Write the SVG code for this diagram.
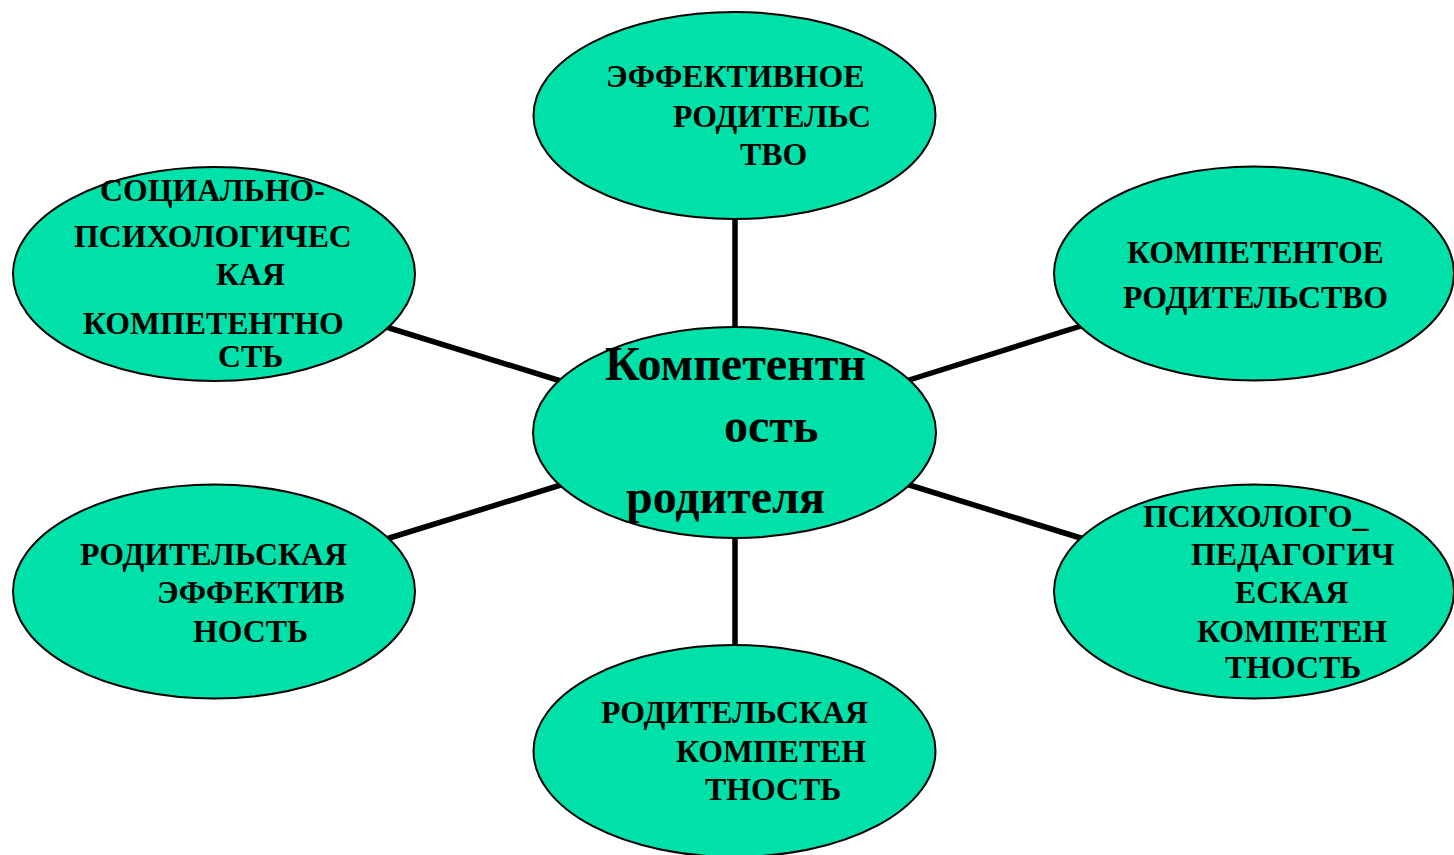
<svg xmlns="http://www.w3.org/2000/svg" width="1454" height="855" viewBox="0 0 1454 855">
<style>
.n{fill:#00E1A9;stroke:#000;stroke-width:2}
.t{font-family:"Liberation Serif","Times New Roman",serif;font-weight:bold;font-size:31.8px;fill:#000}
.c{font-size:48px}
.l{stroke:#000;stroke-width:5.5;fill:none}
</style>
<rect width="1454" height="855" fill="#fff"/>
<g id="connectors">
<line class="l" x1="735" y1="200" x2="735" y2="360"/>
<line class="l" x1="735" y1="500" x2="735" y2="670"/>
<line class="l" x1="370" y1="322" x2="580" y2="387"/>
<line class="l" x1="1100" y1="320" x2="890" y2="386"/>
<line class="l" x1="370" y1="544" x2="580" y2="479"/>
<line class="l" x1="1100" y1="544" x2="890" y2="479"/>
</g>
<g id="top">
<ellipse class="n" cx="734.5" cy="115.5" rx="201" ry="103.5"/>
<text class="t" x="606" y="87">ЭФФЕКТИВНОЕ</text>
<text class="t" x="673" y="127">РОДИТЕЛЬС</text>
<text class="t" x="740" y="165">ТВО</text>
</g>
<g id="left-upper">
<ellipse class="n" cx="214" cy="274" rx="201" ry="107"/>
<text class="t" x="100" y="201">СОЦИАЛЬНО-</text>
<text class="t" x="74" y="247">ПСИХОЛОГИЧЕС</text>
<text class="t" x="216" y="285">КАЯ</text>
<text class="t" x="83" y="334">КОМПЕТЕНТНО</text>
<text class="t" x="218" y="367">СТЬ</text>
</g>
<g id="right-upper">
<ellipse class="n" cx="1254" cy="273.5" rx="200" ry="107"/>
<text class="t" x="1127" y="263">КОМПЕТЕНТОЕ</text>
<text class="t" x="1123" y="308">РОДИТЕЛЬСТВО</text>
</g>
<g id="center">
<ellipse class="n" cx="734.5" cy="432.5" rx="201.5" ry="105.5"/>
<text class="t c" x="605" y="380">Компетентн</text>
<text class="t c" x="724" y="442">ость</text>
<text class="t c" x="626" y="513">родителя</text>
</g>
<g id="left-lower">
<ellipse class="n" cx="214" cy="591.5" rx="201" ry="107"/>
<text class="t" x="80" y="565">РОДИТЕЛЬСКАЯ</text>
<text class="t" x="157" y="603">ЭФФЕКТИВ</text>
<text class="t" x="193" y="642">НОСТЬ</text>
</g>
<g id="right-lower">
<ellipse class="n" cx="1254" cy="591.5" rx="200" ry="107"/>
<text class="t" x="1143" y="527">ПСИХОЛОГО_</text>
<text class="t" x="1191" y="565">ПЕДАГОГИЧ</text>
<text class="t" x="1235" y="603">ЕСКАЯ</text>
<text class="t" x="1197" y="642">КОМПЕТЕН</text>
<text class="t" x="1225" y="678">ТНОСТЬ</text>
</g>
<g id="bottom">
<ellipse class="n" cx="734.5" cy="751" rx="201" ry="106"/>
<text class="t" x="601" y="723">РОДИТЕЛЬСКАЯ</text>
<text class="t" x="676" y="762">КОМПЕТЕН</text>
<text class="t" x="705" y="800">ТНОСТЬ</text>
</g>
</svg>
